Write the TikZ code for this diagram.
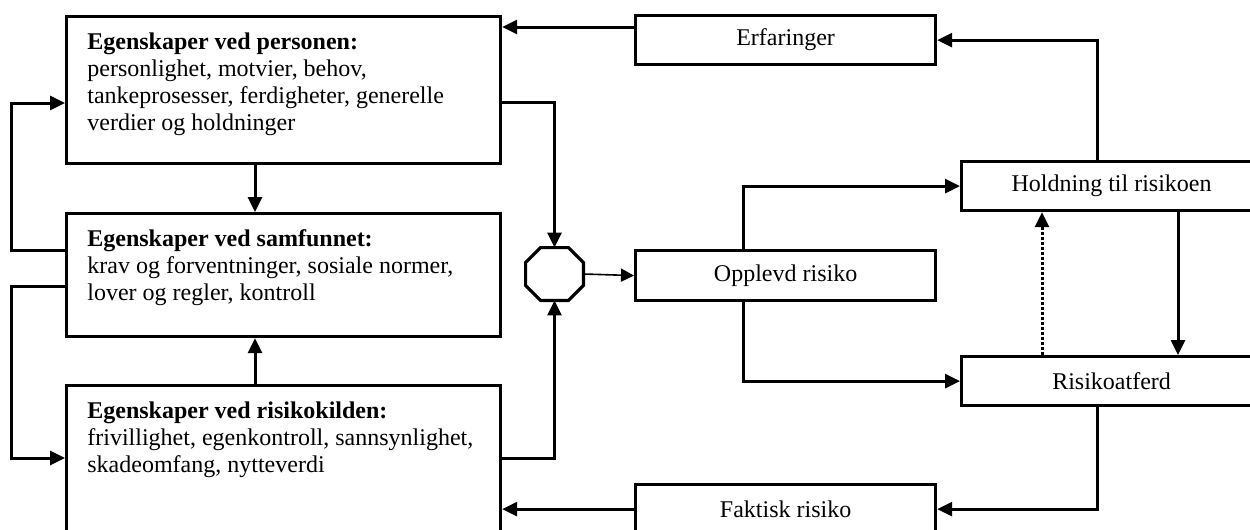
\documentclass[tikz,border=0pt]{standalone}
\usepackage{fontspec}
\setmainfont{Liberation Serif}
\usetikzlibrary{arrows.meta}
\begin{document}
\begin{tikzpicture}[x=0.5pt,y=-0.5pt,
  box/.style={draw, line width=1.6pt, rectangle, inner sep=0, anchor=north west, font=\fontsize{12pt}{13.5pt}\selectfont},
  txt/.style={inner sep=0, anchor=north west, align=left, font=\fontsize{12pt}{13.5pt}\selectfont},
  conn/.style={line width=1.5pt, -{Triangle[length=7.5pt,width=7pt]}},
  thinconn/.style={line width=0.8pt, -{Triangle[length=6.5pt,width=6.5pt]}},
  dotconn/.style={line width=1.5pt, dash pattern=on 1.5pt off 1pt, -{Triangle[length=7.5pt,width=7pt]}},
  octline/.style={line width=1.6pt}
]
\useasboundingbox (0,0) rectangle (1250,530);
\clip (0,0) rectangle (1250,530);

% boxes
\node[box, minimum width=217pt, minimum height=73.5pt] (P) at (65,15) {};
\node[box, minimum width=217pt, minimum height=61.5pt] (S) at (65,212) {};
\node[box, minimum width=217pt, minimum height=88pt] (R) at (65,384) {};
\node[box, minimum width=150pt, minimum height=24.5pt] (E) at (634,14) {Erfaringer};
\node[box, minimum width=150pt, minimum height=25pt] (O) at (634,249) {Opplevd risiko};
\node[box, minimum width=150pt, minimum height=24.5pt] (F) at (634,483) {Faktisk risiko};
\node[box, minimum width=150pt, minimum height=24.5pt] (H) at (960,160) {Holdning til risikoen};
\node[box, minimum width=150pt, minimum height=24.5pt] (K) at (960,355) {Risikoatferd};

% texts of left boxes
\node[txt] (PT) at (87,32) {\textbf{Egenskaper ved personen:}\\personlighet, motvier, behov,\\tankeprosesser, ferdigheter, generelle\\verdier og holdninger};
\node[txt] (ST) at (87,229) {\textbf{Egenskaper ved samfunnet:}\\krav og forventninger, sosiale normer,\\lover og regler, kontroll};
\node[txt] (RT) at (87,401) {\textbf{Egenskaper ved risikokilden:}\\frivillighet, egenkontroll, sannsynlighet,\\skadeomfang, nytteverdi};

% octagon
\node[minimum width=28.5pt, minimum height=26pt, inner sep=0] (Q) at (554.5,274) {};
\draw[octline] ([xshift=7.5pt]Q.north west) -- ([xshift=-7.5pt]Q.north east) -- ([yshift=-7.5pt]Q.north east) -- ([yshift=7.5pt]Q.south east) -- ([xshift=-7.5pt]Q.south east) -- ([xshift=7.5pt]Q.south west) -- ([yshift=7.5pt]Q.south west) -- ([yshift=-7.5pt]Q.north west) -- cycle;

% connectors
\coordinate (e1) at ([yshift=-6.5pt]E.north west);
\draw[conn] (e1) -- (e1 -| P.east);
\coordinate (h1) at ([xshift=68.5pt]H.north west);
\draw[conn] (h1) |- (E.east);
\coordinate (o1) at ([xshift=54.5pt]O.north west);
\draw[conn] (o1) |- (H.west);
\coordinate (o2) at ([xshift=54.5pt]O.south west);
\draw[conn] (o2) |- (K.west);
\coordinate (h2) at ([xshift=109pt]H.south west);
\draw[conn] (h2) -- (h2 |- K.north);
\coordinate (k1) at ([xshift=41pt]K.north west);
\draw[dotconn] (k1) -- (k1 |- H.south);
\coordinate (k2) at ([xshift=68.5pt]K.south west);
\draw[conn] (k2) |- (F.east);
\draw[conn] (F.west) -- (F.west -| R.east);
\coordinate (p1) at ([yshift=-43.5pt]P.north east);
\draw[conn] (p1) -| (Q.north);
\coordinate (r1) at ([yshift=-37pt]R.north east);
\draw[conn] (r1) -| (Q.south);
\draw[thinconn] (Q.east) -- (O.west);
\coordinate (p2) at ([xshift=95pt]P.south west);
\draw[conn] (p2) -- (p2 |- S.north);
\coordinate (r2) at ([xshift=95pt]R.north west);
\draw[conn] (r2) -- (r2 |- S.south);
\coordinate (s1) at ([yshift=-19pt]S.north west);
\coordinate (p3) at ([yshift=-44pt]P.north west);
\draw[conn] (s1) -- ++(-27pt,0) |- (p3);
\coordinate (s2) at ([yshift=-37pt]S.north west);
\coordinate (r3) at ([yshift=-37pt]R.north west);
\draw[conn] (s2) -- ++(-27pt,0) |- (r3);
\end{tikzpicture}
\end{document}
